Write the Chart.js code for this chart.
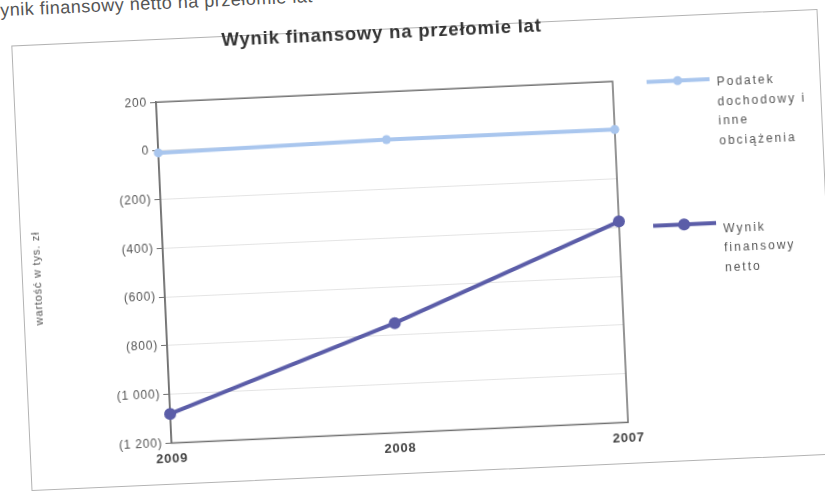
<!DOCTYPE html>
<html lang="pl">
<head>
<meta charset="utf-8">
<title>Wynik finansowy na przełomie lat</title>
<script src="https://cdn.jsdelivr.net/npm/chart.js@4.4.1/dist/chart.umd.min.js"></script>
<style>
  html, body { margin: 0; padding: 0; background: #fff; }
  body { width: 825px; height: 495px; overflow: hidden; position: relative; font-family: "Liberation Sans", Arial, sans-serif; }
  .lead { position: absolute; left: -17px; top: 1px; font-size: 18px; line-height: 20px; color: #555; letter-spacing: 0.5px;
          white-space: nowrap; transform: rotate(-2.6deg); transform-origin: 0 50%; }
  .sheet { position: absolute; left: 22px; top: 28px; width: 805px; height: 444px; outline: 1px solid #b3b3b3;
           transform: rotate(-2.6deg); }
  .sheet canvas { position: absolute; left: 0; top: -10px; display: block; }
</style>
</head>
<body>
<div class="lead">Wynik finansowy netto na przełomie lat</div>
<div class="sheet">
  <canvas id="wynikChart" width="805" height="454"></canvas>
</div>
<script>
// lata od lewej do prawej, tak jak na osi
const years = ['2009', '2008', '2007'];
// wartości w tys. zł
const podatekDochodowy = [-8, 4, 3];
const wynikNetto = [-1080, -750, -375];
// opisy serii (w legendzie łamane na wiersze)
const podatekLines = ['Podatek', 'dochodowy i', 'inne', 'obciążenia'];
const wynikLines = ['Wynik', 'finansowy', 'netto'];
const yMin = -1200, yMax = 200, yStep = 200;

const FONT = '"Liberation Sans", Arial, sans-serif';
const JASNY = '#a9c6ee';
const CIEMNY = '#5b5da8';

// ujemne w nawiasach, tysiące oddzielone spacją: (1 200)
function kwota(v) {
  const s = String(Math.abs(v)).replace(/\B(?=(\d{3})+(?!\d))/g, ' ');
  return v < 0 ? '(' + s + ')' : s;
}

// lekko rozstrzelony druk
const odstepy = {
  id: 'odstepy',
  beforeDraw(chart) {
    chart.ctx.letterSpacing = '0.8px';
  }
};

// ramka wokół obszaru wykresu
const ramka = {
  id: 'ramka',
  beforeDatasetsDraw(chart) {
    const { ctx, chartArea: a } = chart;
    ctx.save();
    ctx.strokeStyle = '#707070';
    ctx.lineWidth = 1.5;
    ctx.strokeRect(a.left, a.top, a.right - a.left, a.bottom - a.top);
    ctx.restore();
  }
};

// legenda z prawej: linia z punktem + opis w kilku wierszach
const legendaBoczna = {
  id: 'legendaBoczna',
  afterDraw(chart) {
    const { ctx, chartArea: a } = chart;
    const rows = [
      { ds: 0, lines: podatekLines, dy: 2, textDy: 3.5 },
      { ds: 1, lines: wynikLines, dy: 146, textDy: 6 }
    ];
    ctx.save();
    rows.forEach(r => {
      const ds = chart.data.datasets[r.ds];
      const x0 = a.right + 34;
      const y = a.top + r.dy;
      ctx.strokeStyle = ds.borderColor;
      ctx.lineWidth = ds.borderWidth;
      ctx.beginPath();
      ctx.moveTo(x0, y);
      ctx.lineTo(x0 + 63, y);
      ctx.stroke();
      ctx.fillStyle = ds.borderColor;
      ctx.beginPath();
      ctx.arc(x0 + 31, y, ds.pointRadius, 0, Math.PI * 2);
      ctx.fill();

      ctx.fillStyle = '#555';
      ctx.font = '12px ' + FONT;
      ctx.letterSpacing = '2px';
      ctx.textAlign = 'left';
      ctx.textBaseline = 'middle';
      r.lines.forEach((t, i) => ctx.fillText(t, x0 + 70, y + r.textDy + i * 19.5));
    });
    ctx.restore();
  }
};

const ctx = document.getElementById('wynikChart').getContext('2d');
const wynikChart = new Chart(ctx, {
  type: 'line',
  data: {
    labels: years,
    datasets: [
      {
        label: podatekLines.join(' '),
        data: podatekDochodowy,
        borderColor: JASNY,
        backgroundColor: JASNY,
        pointBackgroundColor: JASNY,
        borderWidth: 4,
        pointRadius: 4.5,
        pointBorderWidth: 0,
        tension: 0,
        clip: false
      },
      {
        label: wynikLines.join(' '),
        data: wynikNetto,
        borderColor: CIEMNY,
        backgroundColor: CIEMNY,
        pointBackgroundColor: CIEMNY,
        borderWidth: 4,
        pointRadius: 6,
        pointBorderWidth: 0,
        tension: 0,
        clip: false
      }
    ]
  },
  options: {
    responsive: false,
    animation: false,
    layout: { padding: { left: 0, right: 207, top: 0, bottom: 9 } },
    scales: {
      x: {
        offset: false,
        grid: { display: false, drawTicks: false },
        border: { display: false },
        ticks: {
          color: '#444',
          font: { family: FONT, size: 13, weight: 'bold' },
          padding: 8,
          maxRotation: 0
        }
      },
      y: {
        min: yMin,
        max: yMax,
        ticks: {
          stepSize: yStep,
          color: '#555',
          font: { family: FONT, size: 12 },
          padding: 3,
          callback: v => kwota(v)
        },
        grid: { color: '#e4e4e4', tickColor: '#707070', tickLength: 6 },
        border: { display: true, color: '#707070', width: 1.5 },
        title: {
          display: true,
          text: 'wartość w tys. zł',
          color: '#555',
          font: { family: FONT, size: 11 },
          padding: { top: 8, bottom: 0 }
        },
        afterFit(scale) { scale.width = 141; }
      }
    },
    plugins: {
      legend: { display: false },
      tooltip: { enabled: false },
      title: {
        display: true,
        text: 'Wynik finansowy na przełomie lat',
        fullSize: false,
        color: '#333',
        font: { family: FONT, size: 18.5, weight: 'bold' },
        padding: { top: 3, bottom: 47 }
      }
    }
  },
  plugins: [odstepy, ramka, legendaBoczna]
});
</script>
</body>
</html>
